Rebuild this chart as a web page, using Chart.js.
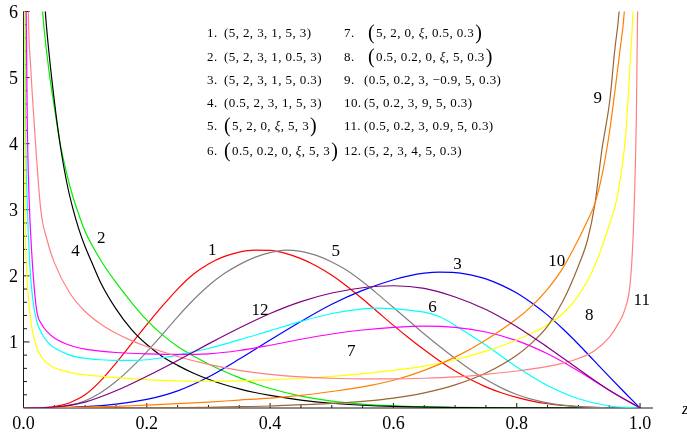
<!DOCTYPE html>
<html>
<head>
<meta charset="utf-8">
<script src="https://cdn.jsdelivr.net/npm/chart.js@4/dist/chart.umd.min.js"></script>
<style>
  html, body { margin: 0; padding: 0; background: #fff; overflow: hidden; }
  #wrap { width: 687px; height: 436px; position: relative; }
</style>
</head>
<body>
<div id="wrap"><canvas id="c" width="687" height="436"></canvas></div>
<script>
// Density curves on [0, 1], one [z, f(z)] list per parameter set.
const curve1 = [[0,0],[0.025,0.002],[0.05,0.02],[0.075,0.08],[0.1,0.20],[0.125,0.41],[0.15,0.68],[0.175,0.97],[0.2,1.26],[0.225,1.54],[0.25,1.80],[0.275,2.02],[0.3,2.18],[0.325,2.29],[0.35,2.36],[0.375,2.39],[0.4,2.385],[0.425,2.34],[0.45,2.26],[0.475,2.15],[0.5,2.01],[0.525,1.84],[0.55,1.65],[0.575,1.45],[0.6,1.25],[0.625,1.06],[0.65,0.88],[0.675,0.71],[0.7,0.56],[0.725,0.43],[0.75,0.32],[0.775,0.23],[0.8,0.16],[0.825,0.105],[0.85,0.065],[0.875,0.038],[0.9,0.02],[0.925,0.009],[0.95,0.003],[1,0]];
const curve2 = [[0.026,6.8],[0.031,6.0],[0.04,5.2],[0.05,4.55],[0.06,3.98],[0.07,3.55],[0.08,3.2],[0.09,2.92],[0.1,2.67],[0.125,2.24],[0.15,1.90],[0.175,1.60],[0.2,1.33],[0.225,1.11],[0.25,0.93],[0.275,0.79],[0.3,0.665],[0.325,0.555],[0.35,0.46],[0.375,0.37],[0.4,0.295],[0.45,0.18],[0.5,0.105],[0.55,0.06],[0.6,0.033],[0.65,0.017],[0.7,0.008],[0.8,0.001],[1,0]];
const curve3 = [[0,0],[0.05,0.003],[0.1,0.02],[0.15,0.06],[0.2,0.13],[0.25,0.26],[0.3,0.47],[0.35,0.74],[0.4,1.03],[0.45,1.31],[0.5,1.57],[0.55,1.78],[0.6,1.94],[0.625,2.00],[0.65,2.04],[0.675,2.055],[0.7,2.05],[0.725,2.015],[0.75,1.955],[0.775,1.86],[0.8,1.74],[0.825,1.585],[0.85,1.405],[0.875,1.195],[0.9,0.965],[0.925,0.72],[0.95,0.475],[0.975,0.235],[1,0]];
const curve4 = [[0.03,6.9],[0.035,6.05],[0.04,5.5],[0.05,4.65],[0.06,3.95],[0.07,3.42],[0.08,3.02],[0.09,2.70],[0.1,2.44],[0.11,2.22],[0.125,1.90],[0.15,1.50],[0.175,1.19],[0.2,0.96],[0.225,0.78],[0.25,0.645],[0.275,0.53],[0.3,0.435],[0.325,0.355],[0.35,0.29],[0.375,0.235],[0.4,0.19],[0.45,0.12],[0.5,0.072],[0.55,0.042],[0.6,0.024],[0.7,0.007],[0.8,0.001],[1,0]];
const curve5 = [[0,0],[0.05,0.01],[0.075,0.04],[0.1,0.11],[0.125,0.23],[0.15,0.40],[0.175,0.61],[0.2,0.85],[0.225,1.11],[0.25,1.38],[0.275,1.63],[0.3,1.85],[0.325,2.03],[0.35,2.17],[0.375,2.28],[0.4,2.35],[0.425,2.39],[0.45,2.37],[0.475,2.31],[0.5,2.21],[0.525,2.08],[0.55,1.91],[0.575,1.72],[0.6,1.52],[0.625,1.32],[0.65,1.12],[0.675,0.93],[0.7,0.75],[0.725,0.58],[0.75,0.43],[0.775,0.305],[0.8,0.205],[0.825,0.13],[0.85,0.078],[0.875,0.044],[0.9,0.022],[0.925,0.01],[0.95,0.003],[1,0]];
const curve6 = [[0.0015,7.5],[0.003,4.6],[0.006,3.15],[0.01,2.2],[0.015,1.65],[0.021,1.33],[0.03,1.12],[0.04,0.99],[0.05,0.91],[0.075,0.80],[0.1,0.75],[0.125,0.73],[0.15,0.72],[0.175,0.72],[0.2,0.73],[0.225,0.76],[0.25,0.80],[0.275,0.85],[0.3,0.90],[0.35,1.03],[0.4,1.17],[0.45,1.31],[0.5,1.43],[0.55,1.50],[0.575,1.51],[0.6,1.50],[0.625,1.48],[0.65,1.45],[0.675,1.38],[0.7,1.25],[0.75,0.95],[0.8,0.62],[0.85,0.34],[0.9,0.14],[0.95,0.03],[1,0]];
const curve7 = [[0.003,7.5],[0.006,4.4],[0.009,3.2],[0.013,2.4],[0.021,1.5],[0.03,1.26],[0.04,1.14],[0.05,1.06],[0.075,0.95],[0.1,0.89],[0.125,0.86],[0.15,0.84],[0.2,0.82],[0.25,0.81],[0.3,0.82],[0.35,0.87],[0.4,0.95],[0.45,1.04],[0.5,1.12],[0.55,1.18],[0.6,1.22],[0.65,1.24],[0.7,1.22],[0.75,1.15],[0.8,1.02],[0.85,0.82],[0.9,0.56],[0.95,0.27],[1,0]];
const curve8 = [[0.001,7.5],[0.0025,3.15],[0.005,2.1],[0.011,1.38],[0.021,0.93],[0.03,0.76],[0.038,0.68],[0.05,0.61],[0.075,0.54],[0.1,0.50],[0.15,0.46],[0.2,0.43],[0.25,0.41],[0.3,0.405],[0.35,0.41],[0.4,0.425],[0.45,0.45],[0.5,0.48],[0.55,0.52],[0.6,0.57],[0.65,0.635],[0.7,0.73],[0.75,0.86],[0.8,1.03],[0.85,1.26],[0.875,1.43],[0.9,1.70],[0.925,2.12],[0.95,2.77],[0.962,3.15],[0.97,3.6],[0.977,4.16],[0.9835,5.16],[0.989,6.1],[0.995,8]];
const curve9 = [[0,0],[0.1,0.0005],[0.2,0.003],[0.3,0.01],[0.35,0.02],[0.4,0.03],[0.45,0.05],[0.5,0.07],[0.55,0.10],[0.6,0.15],[0.65,0.23],[0.7,0.35],[0.75,0.53],[0.8,0.80],[0.825,0.99],[0.85,1.24],[0.875,1.62],[0.9,2.15],[0.915,2.55],[0.927,3.1],[0.938,3.9],[0.951,4.66],[0.959,5.42],[0.966,6.0],[0.975,7.5]];
const curve10 = [[0,0],[0.05,0.004],[0.1,0.012],[0.15,0.025],[0.2,0.045],[0.25,0.065],[0.3,0.09],[0.35,0.12],[0.4,0.15],[0.45,0.19],[0.5,0.25],[0.55,0.32],[0.6,0.42],[0.65,0.57],[0.7,0.77],[0.75,1.03],[0.8,1.35],[0.825,1.55],[0.85,1.80],[0.875,2.12],[0.9,2.55],[0.915,2.84],[0.927,3.1],[0.94,3.6],[0.95,4.15],[0.96,4.85],[0.9675,5.42],[0.9745,6.0],[0.985,8]];
const curve11 = [[0.006,7.5],[0.0078,6.0],[0.0117,5.16],[0.016,4.5],[0.028,3.0],[0.038,2.55],[0.05,2.2],[0.075,1.74],[0.1,1.46],[0.125,1.27],[0.15,1.13],[0.175,1.02],[0.2,0.93],[0.25,0.78],[0.3,0.66],[0.35,0.57],[0.4,0.51],[0.45,0.47],[0.5,0.45],[0.55,0.44],[0.6,0.44],[0.65,0.45],[0.7,0.47],[0.75,0.51],[0.8,0.56],[0.85,0.63],[0.875,0.68],[0.9,0.75],[0.925,0.86],[0.95,1.07],[0.965,1.28],[0.975,1.48],[0.984,1.89],[0.989,2.64],[0.991,3.2],[0.994,4.4],[0.996,6.0],[0.998,8]];
const curve12 = [[0,0],[0.05,0.015],[0.1,0.09],[0.15,0.26],[0.2,0.48],[0.25,0.72],[0.3,0.97],[0.35,1.21],[0.4,1.43],[0.45,1.61],[0.5,1.74],[0.55,1.82],[0.6,1.85],[0.65,1.81],[0.7,1.68],[0.75,1.49],[0.8,1.23],[0.85,0.92],[0.9,0.59],[0.95,0.27],[1,0]];

const curveNames = ['1','2','3','4','5','6','7','8','9','10','11','12'];
const curveColors = ['#ff0000','#00ee00','#0000ff','#000000','#808080','#00ffff','#ff00ff','#ffff00','#996633','#ff8000','#ff8080','#800080'];

// Tick labels
const xTickLabels = ['0.0','0.2','0.4','0.6','0.8','1.0'];
const yTickLabels = ['1','2','3','4','5','6'];

// Parameter sets listed in the key
const keyNumbers = ['1.','2.','3.','4.','5.','6.','7.','8.','9.','10.','11.','12.'];
const keyTuples = ['5, 2, 3, 1, 5, 3','5, 2, 3, 1, 0.5, 3','5, 2, 3, 1, 5, 0.3','0.5, 2, 3, 1, 5, 3','5, 2, 0, ξ, 5, 3','0.5, 0.2, 0, ξ, 5, 3','5, 2, 0, ξ, 0.5, 0.3','0.5, 0.2, 0, ξ, 5, 0.3','0.5, 0.2, 3, −0.9, 5, 0.3','5, 0.2, 3, 9, 5, 0.3','0.5, 0.2, 3, 0.9, 5, 0.3','5, 2, 3, 4, 5, 0.3'];

// Where each curve number is written, in plot coordinates
const curveLabelAnchors = [[0.306,2.406],[0.126,2.588],[0.704,2.19],[0.0843,2.391],[0.5066,2.395],[0.6634,1.54],[0.5317,0.882],[0.9176,1.419],[0.9315,4.699],[0.8649,2.243],[1.0028,1.646],[0.3836,1.501]];

const curves = [curve1,curve2,curve3,curve4,curve5,curve6,curve7,curve8,curve9,curve10,curve11,curve12];

const SERIF = '"Liberation Serif", "Times New Roman", serif';

function drawTuple(ctx, x, y, body, big) {
  const base = '13px ' + SERIF;
  const paren = big ? '20px ' + SERIF : base;
  let cx = x;
  ctx.font = paren;
  ctx.fillText('(', cx, y);
  cx += ctx.measureText('(').width + (big ? 1 : 0);
  const parts = body.split('ξ');
  parts.forEach((p, i) => {
    ctx.font = base;
    ctx.fillText(p, cx, y);
    cx += ctx.measureText(p).width;
    if (i < parts.length - 1) {
      ctx.font = 'italic ' + base;
      ctx.fillText('ξ', cx, y);
      cx += ctx.measureText('ξ').width;
    }
  });
  cx += big ? 1 : 0;
  ctx.font = paren;
  ctx.fillText(')', cx, y);
}

const axesPlugin = {
  id: 'mmaAxes',
  beforeDatasetsDraw(chart) {
    const { ctx, scales: { x, y } } = chart;
    ctx.save();
    ctx.strokeStyle = '#1a1a1a';
    ctx.lineWidth = 1;
    const y0 = y.getPixelForValue(0);
    const x0 = x.getPixelForValue(0);
    ctx.beginPath();
    ctx.moveTo(x0, y0); ctx.lineTo(x.getPixelForValue(x.max), y0);
    ctx.moveTo(x0, y0); ctx.lineTo(x0, y.getPixelForValue(6));
    // x ticks: majors every 0.2, minors every 0.05, pointing into the plot
    for (let k = 1; k <= 20; k++) {
      const px = x.getPixelForValue(k * 0.05);
      const len = (k % 4 === 0) ? 5 : 3;
      ctx.moveTo(px, y0); ctx.lineTo(px, y0 - len);
    }
    // y ticks: majors every 1, minors every 0.2
    for (let k = 1; k <= 30; k++) {
      const py = y.getPixelForValue(k * 0.2);
      const len = (k % 5 === 0) ? 6 : 3.5;
      ctx.moveTo(x0, py); ctx.lineTo(x0 + len, py);
    }
    ctx.stroke();
    ctx.restore();
  },
  afterDraw(chart) {
    const { ctx, scales: { x, y } } = chart;
    ctx.save();
    ctx.fillStyle = '#000';
    // tick labels
    ctx.font = '18px ' + SERIF;
    ctx.textAlign = 'center';
    ctx.textBaseline = 'alphabetic';
    xTickLabels.forEach((t, i) => {
      ctx.fillText(t, x.getPixelForValue(i * 0.2), 428.5);
    });
    ctx.textAlign = 'right';
    yTickLabels.forEach((t, i) => {
      ctx.fillText(t, 18, y.getPixelForValue(i + 1) + 6.3);
    });
    // axis name
    ctx.textAlign = 'left';
    ctx.font = 'italic 17px ' + SERIF;
    ctx.fillText('z', 682, 414);
    // curve numbers
    ctx.font = '17px ' + SERIF;
    ctx.textAlign = 'center';
    curveLabelAnchors.forEach(([ax, ay], i) => {
      ctx.fillText(curveNames[i], x.getPixelForValue(ax), y.getPixelForValue(ay) + 5.8);
    });
    // key of parameter sets
    ctx.textAlign = 'left';
    ctx.textBaseline = 'middle';
    try { ctx.letterSpacing = '0.4px'; } catch (e) {}
    const rowY = [34, 57.5, 81, 104, 127, 152];
    keyNumbers.forEach((num, i) => {
      const col = i < 6 ? 0 : 1;
      const r = i % 6;
      const big = keyTuples[i].includes('ξ');
      const numX = col === 0 ? 207 : 344;
      const tupX = col === 0 ? 224 : (big ? 368 : 364);
      ctx.font = '13px ' + SERIF;
      ctx.fillText(num, numX, rowY[r]);
      drawTuple(ctx, tupX, rowY[r], keyTuples[i], big);
    });
    ctx.restore();
  }
};

new Chart(document.getElementById('c'), {
  type: 'scatter',
  data: {
    datasets: curves.map((pts, i) => ({
      label: curveNames[i],
      data: pts.map(([px, py]) => ({ x: px, y: py })),
      borderColor: curveColors[i],
      backgroundColor: curveColors[i],
      borderWidth: 1.2,
      showLine: true,
      pointRadius: 0,
      pointHoverRadius: 0,
      cubicInterpolationMode: 'monotone',
      fill: false,
      order: curves.length - i
    }))
  },
  options: {
    responsive: false,
    animation: false,
    devicePixelRatio: 1,
    events: [],
    layout: { padding: { left: 23.5, right: 34, top: 11.5, bottom: 28 } },
    plugins: { legend: { display: false }, tooltip: { enabled: false } },
    elements: { line: { capBezierPoints: false } },
    scales: {
      x: { type: 'linear', min: 0, max: 1.021, display: false },
      y: { type: 'linear', min: 0, max: 6, display: false }
    }
  },
  plugins: [axesPlugin]
});
</script>
</body>
</html>
